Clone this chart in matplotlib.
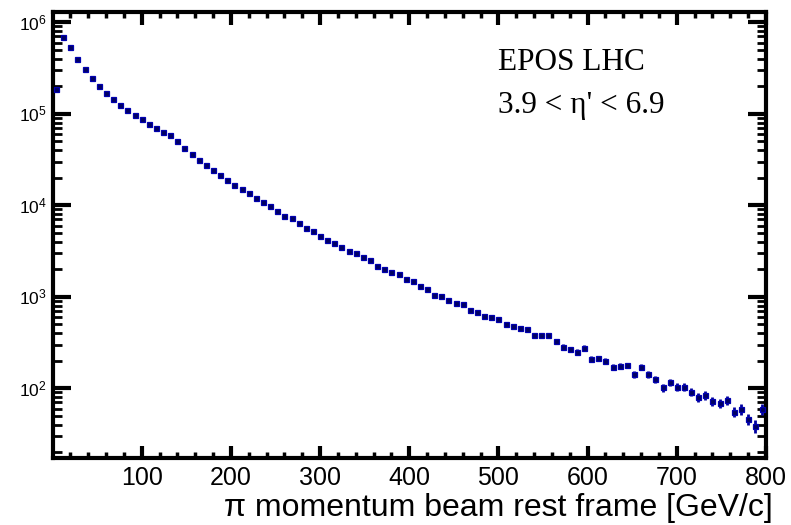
import numpy as np
import matplotlib
matplotlib.use("Agg")
import matplotlib.pyplot as plt
from matplotlib.ticker import FixedLocator, LogLocator, NullFormatter

plt.rcParams['mathtext.fontset'] = 'custom'
plt.rcParams['mathtext.rm'] = 'Liberation Sans'
plt.rcParams['mathtext.it'] = 'Liberation Sans:italic'

# ---- data ----
bin_low = 0.0
bin_high = 800.0
n_bins = 100
counts = [
    1.87e5, 6.85e5, 5.33e5, 3.97e5, 3.07e5, 2.44e5, 2.01e5, 1.69e5, 1.44e5, 1.25e5,
    1.10e5, 9.7e4, 8.7e4, 7.80e4, 7.0e4, 6.37e4, 5.82e4, 5.04e4, 4.20e4, 3.64e4,
    3.15e4, 2.78e4, 2.43e4, 2.16e4, 1.90e4, 1.68e4, 1.50e4, 1.35e4, 1.20e4, 1.09e4,
    9750, 8730, 7640, 7210, 6360, 5690, 5240, 4620, 4210, 3870,
    3530, 3190, 2990, 2740, 2520, 2190, 2030, 1850, 1760, 1570,
    1490, 1310, 1220, 1050, 1030, 930, 862, 828, 723, 682,
    622, 597, 572, 500, 483, 453, 445, 387, 387, 382,
    326, 285, 269, 251, 278, 209, 213, 199, 170, 174,
    178, 142, 171, 143, 125, 102, 116, 103, 104, 91.8,
    79.8, 84.5, 72.6, 68.5, 74.5, 55.5, 58.9, 46.1, 38.7, 58.9,
]
x_ticks = [100, 200, 300, 400, 500, 600, 700, 800]
x_tick_labels = ["100", "200", "300", "400", "500", "600", "700", "800"]
y_ticks = [1e2, 1e3, 1e4, 1e5, 1e6]
y_tick_labels = [r"$10^{2}$", r"$10^{3}$", r"$10^{4}$", r"$10^{5}$", r"$10^{6}$"]
x_label = "\u03c0 momentum beam rest frame [GeV/c]"
label_lines = ["EPOS LHC", "3.9 < \u03b7' < 6.9"]

# ---- figure ----
counts = np.array(counts)
edges = np.linspace(bin_low, bin_high, n_bins + 1)
centers = 0.5 * (edges[:-1] + edges[1:])
errors = np.sqrt(counts)

fig = plt.figure(figsize=(7.91, 5.25), dpi=100)
ax = fig.add_axes([52.5 / 791, 1 - 458 / 525, (766 - 52.5) / 791, (458 - 12) / 525])

ax.errorbar(centers, counts, yerr=errors, fmt='s', color='#0000a0',
            markerfacecolor='#000060', markeredgecolor='#0000b0',
            markersize=3.6, markeredgewidth=0.9, elinewidth=2.0, capsize=0,
            zorder=3, clip_on=True)

ax.set_xlim(bin_low, bin_high)
ax.set_yscale('log')
ax.set_ylim(17.3, 1.296e6)

ax.xaxis.set_major_locator(FixedLocator(x_ticks))
ax.set_xticklabels(x_tick_labels, fontsize=18, family='Liberation Sans')
ax.xaxis.set_minor_locator(FixedLocator(np.arange(20, 800, 20)))

ax.yaxis.set_major_locator(FixedLocator(y_ticks))
ax.set_yticklabels(y_tick_labels, fontsize=12.5)
ax.yaxis.set_minor_locator(LogLocator(base=10, subs=np.arange(2, 10), numticks=20))
ax.yaxis.set_minor_formatter(NullFormatter())

for s in ax.spines.values():
    s.set_linewidth(3.0)
ax.tick_params(which='both', direction='in', top=True, right=True, color='black')
ax.tick_params(axis='y', which='major', length=13, width=3.0, pad=4)
ax.tick_params(axis='y', which='minor', length=6.5, width=2.0)
ax.tick_params(axis='x', which='major', length=9, width=3.0, pad=6)
ax.tick_params(axis='x', which='minor', length=4.5, width=2.5)

fig.text(773 / 791, 1 - 516 / 525, x_label, ha='right', va='baseline',
         fontsize=23, family=['Liberation Sans', 'DejaVu Sans'])

ax.text(498 / 791, 1 - 70 / 525, label_lines[0], transform=fig.transFigure,
        ha='left', va='baseline', fontsize=22.5, family='Liberation Serif')
ax.text(498 / 791, 1 - 112.5 / 525, label_lines[1], transform=fig.transFigure,
        ha='left', va='baseline', fontsize=22.5, family='Liberation Serif')

fig.savefig("out.png", dpi=100)
